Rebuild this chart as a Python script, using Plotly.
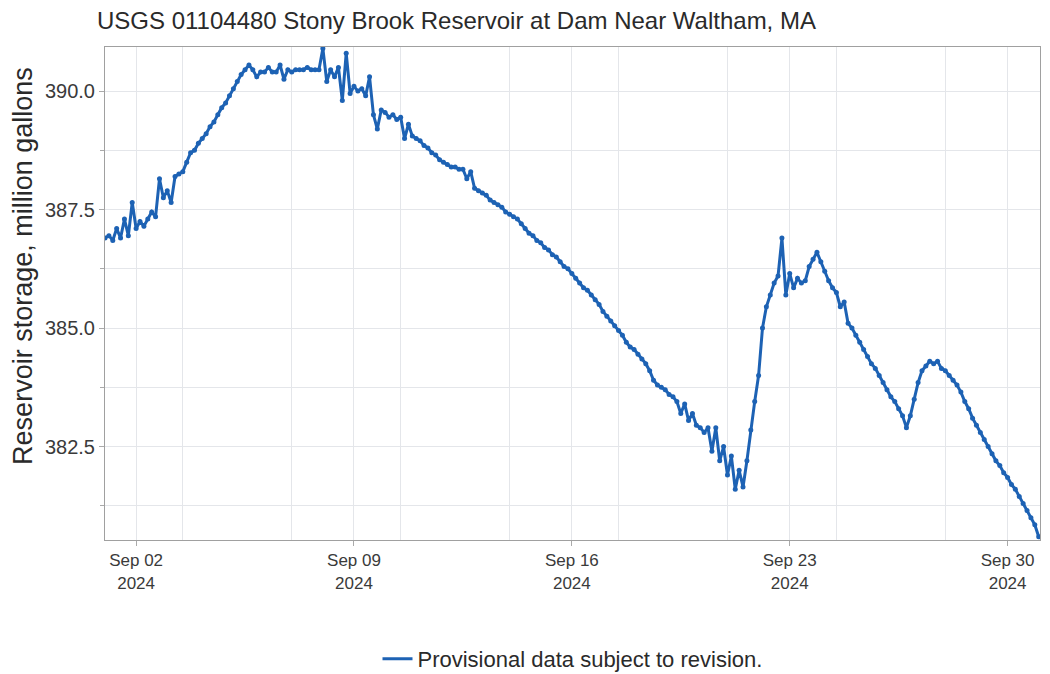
import pandas as pd
import plotly.graph_objects as go

# Reservoir storage, million gallons, read every 3 hours from Sep 1 00:00 to Oct 1 00:00
start_time = "2024-09-01 00:00"
step_hours = 3

storage = [
    # Sep 1
    386.9, 386.95, 386.85, 387.1, 386.9, 387.3, 386.95, 387.65,
    # Sep 2
    387.1, 387.25, 387.15, 387.3, 387.45, 387.35, 388.15, 387.75,
    # Sep 3
    387.9, 387.65, 388.2, 388.25, 388.3, 388.5, 388.7, 388.75,
    # Sep 4
    388.9, 389.0, 389.1, 389.25, 389.35, 389.5, 389.65, 389.75,
    # Sep 5
    389.9, 390.05, 390.2, 390.35, 390.45, 390.55, 390.45, 390.3,
    # Sep 6
    390.4, 390.4, 390.5, 390.4, 390.4, 390.55, 390.25, 390.45,
    # Sep 7
    390.4, 390.45, 390.45, 390.45, 390.5, 390.45, 390.45, 390.45,
    # Sep 8
    390.9, 390.2, 390.45, 390.3, 390.5, 389.8, 390.8, 389.95,
    # Sep 9
    390.1, 390.0, 390.05, 389.9, 390.3, 389.5, 389.2, 389.6,
    # Sep 10
    389.55, 389.45, 389.5, 389.4, 389.45, 389.0, 389.3, 389.05,
    # Sep 11
    389.0, 388.95, 388.85, 388.8, 388.7, 388.65, 388.55, 388.5,
    # Sep 12
    388.45, 388.4, 388.4, 388.35, 388.35, 388.15, 388.3, 387.95,
    # Sep 13
    387.9, 387.85, 387.8, 387.7, 387.65, 387.6, 387.55, 387.45,
    # Sep 14
    387.4, 387.35, 387.3, 387.2, 387.1, 387.0, 386.95, 386.85,
    # Sep 15
    386.8, 386.7, 386.65, 386.55, 386.5, 386.4, 386.3, 386.25,
    # Sep 16
    386.15, 386.05, 385.95, 385.85, 385.8, 385.7, 385.6, 385.5,
    # Sep 17
    385.35, 385.25, 385.15, 385.05, 384.95, 384.85, 384.7, 384.6,
    # Sep 18
    384.55, 384.45, 384.35, 384.25, 384.1, 383.9, 383.8, 383.75,
    # Sep 19
    383.7, 383.6, 383.55, 383.45, 383.2, 383.4, 383.05, 383.2,
    # Sep 20
    382.95, 382.9, 382.8, 382.9, 382.4, 382.9, 382.2, 382.5,
    # Sep 21
    381.9, 382.3, 381.6, 382.0, 381.65, 382.2, 382.85, 383.45,
    # Sep 22
    384.0, 385.0, 385.45, 385.7, 385.95, 386.1, 386.9, 385.7,
    # Sep 23
    386.15, 385.85, 386.05, 385.95, 386.0, 386.3, 386.45, 386.6,
    # Sep 24
    386.4, 386.2, 386.0, 385.85, 385.75, 385.45, 385.55, 385.1,
    # Sep 25
    385.0, 384.85, 384.7, 384.55, 384.4, 384.25, 384.15, 384.0,
    # Sep 26
    383.85, 383.7, 383.55, 383.45, 383.3, 383.15, 382.9, 383.15,
    # Sep 27
    383.5, 383.85, 384.1, 384.2, 384.3, 384.25, 384.3, 384.15,
    # Sep 28
    384.1, 384.0, 383.9, 383.8, 383.65, 383.45, 383.3, 383.1,
    # Sep 29
    382.95, 382.8, 382.65, 382.5, 382.35, 382.2, 382.1, 381.95,
    # Sep 30
    381.85, 381.7, 381.6, 381.45, 381.3, 381.15, 381.0, 380.85,
    # Oct 1
    380.6,
]

times = pd.date_range(start_time, periods=len(storage), freq=f"{step_hours}h")

series_name = "Provisional data subject to revision."
title_text = "USGS 01104480 Stony Brook Reservoir at Dam Near Waltham, MA"
y_title = "Reservoir storage, million gallons"

LINE_COLOR = "#1d62b4"
GRID_COLOR = "#e4e6ea"
TEXT_COLOR = "#3a3a3a"
FONT = "Liberation Sans, Arial, sans-serif"

fig = go.Figure()

fig.add_trace(
    go.Scatter(
        x=times,
        y=storage,
        mode="lines+markers",
        line=dict(color=LINE_COLOR, width=3),
        marker=dict(color=LINE_COLOR, size=5),
        name=series_name,
        showlegend=False,
    )
)

# legend entry shows only the line, as in the original
fig.add_trace(
    go.Scatter(
        x=[None],
        y=[None],
        mode="lines",
        line=dict(color=LINE_COLOR, width=3),
        name=series_name,
        showlegend=True,
    )
)

# the page body adds an 8px offset, so the margins are set 8px smaller
fig.update_layout(
    width=1050,
    height=674,
    margin=dict(l=97, r=18, t=39, b=142, autoexpand=False),
    paper_bgcolor="white",
    plot_bgcolor="white",
    font=dict(family=FONT, color=TEXT_COLOR),
    title=dict(
        text=title_text,
        font=dict(size=24, color="#2a2a2a"),
        xref="container",
        x=89 / 1050,
        xanchor="left",
        yref="container",
        y=1 - 13 / 674,
        yanchor="middle",
    ),
    showlegend=True,
    legend=dict(
        orientation="h",
        x=0.5,
        xanchor="center",
        yref="container",
        y=1 - 651 / 674,
        yanchor="middle",
        font=dict(size=22, color="#2a2a2a"),
    ),
)

# y axis title sits a little above the plot centre in the original
fig.add_annotation(
    text=y_title,
    textangle=-90,
    xref="paper",
    yref="paper",
    x=-0.0877,
    y=0.556,
    xanchor="center",
    yanchor="middle",
    showarrow=False,
    font=dict(size=27, color="#2a2a2a"),
)

fig.update_xaxes(
    type="date",
    automargin=False,
    range=["2024-09-01 00:00", "2024-10-01 01:00"],
    tick0="2024-09-02",
    dtick=7 * 86400000,
    tickformat="%b %d<br>%Y",
    tickfont=dict(size=17),
    ticks="outside",
    ticklen=5,
    tickcolor="#aaaaaa",
    showgrid=True,
    gridcolor=GRID_COLOR,
    minor=dict(dtick=3.5 * 86400000, showgrid=True, gridcolor=GRID_COLOR),
    showline=True,
    linecolor="#a0a0a0",
    linewidth=1,
    mirror=True,
    zeroline=False,
)

fig.update_yaxes(
    automargin=False,
    range=[380.53, 390.93],
    tick0=390,
    dtick=2.5,
    tickformat=".1f",
    tickfont=dict(size=20),
    ticks="outside",
    ticklen=5,
    tickcolor="#aaaaaa",
    showgrid=True,
    gridcolor=GRID_COLOR,
    minor=dict(dtick=1.25, showgrid=True, gridcolor=GRID_COLOR, ticks="outside", ticklen=4, tickcolor="#aaaaaa"),
    showline=True,
    linecolor="#a0a0a0",
    linewidth=1,
    mirror=True,
    zeroline=False,
)

fig.write_html("out.html")
